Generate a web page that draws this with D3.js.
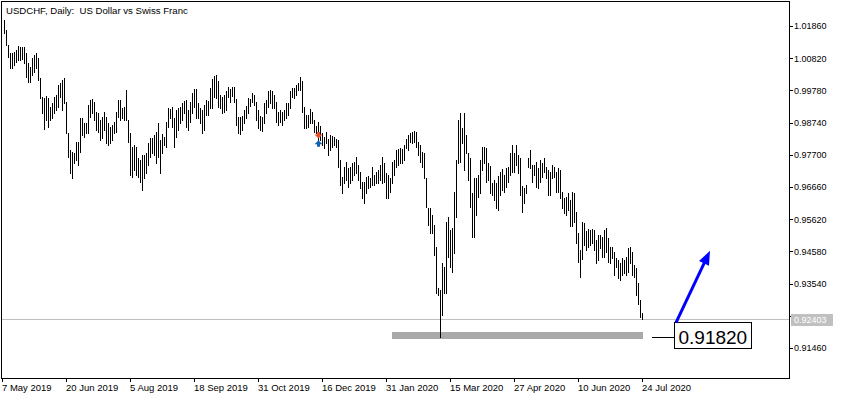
<!DOCTYPE html>
<html><head><meta charset="utf-8">
<script src="https://cdn.jsdelivr.net/npm/d3@7/dist/d3.min.js"></script>
<style>body{margin:0;background:#fff}svg{display:block}text{font-family:"Liberation Sans",Arial,sans-serif}</style>
</head><body>
<svg id="c" width="842" height="400"></svg>
<script>
const title = "USDCHF, Daily:  US Dollar vs Swiss Franc";
const highs = [1.0205,1.0173,1.0125,1.0098,1.0099,1.0103,1.0109,1.0121,1.0119,1.0117,1.0117,1.0098,1.0066,1.0055,1.0083,1.0092,1.0098,1.0082,1.0018,0.9958,
0.9953,0.9960,0.9953,0.9925,0.9937,0.9958,0.9963,0.9995,1.0002,1.0012,1.0018,0.9942,0.9840,0.9786,0.9780,0.9776,0.9812,0.9812,0.9889,0.9889,
0.9873,0.9873,0.9931,0.9947,0.9950,0.9942,0.9909,0.9905,0.9882,0.9893,0.9909,0.9893,0.9873,0.9861,0.9866,0.9877,0.9909,0.9947,0.9947,0.9921,
0.9925,0.9979,0.9882,0.9840,0.9796,0.9802,0.9796,0.9760,0.9753,0.9769,0.9769,0.9776,0.9808,0.9824,0.9824,0.9834,0.9845,0.9873,0.9818,0.9837,
0.9829,0.9877,0.9921,0.9918,0.9925,0.9889,0.9915,0.9921,0.9925,0.9937,0.9945,0.9947,0.9915,0.9942,0.9970,0.9983,0.9983,0.9937,0.9921,0.9915,
0.9931,0.9947,0.9944,0.9986,1.0015,1.0025,1.0028,1.0009,0.9963,0.9958,0.9963,0.9977,0.9990,0.9983,0.9990,0.9990,0.9950,0.9893,0.9893,0.9895,
0.9915,0.9928,0.9953,0.9950,0.9970,0.9963,0.9942,0.9915,0.9895,0.9893,0.9937,0.9947,0.9977,0.9979,0.9977,0.9963,0.9942,0.9909,0.9915,0.9909,
0.9915,0.9937,0.9937,0.9977,0.9986,0.9985,0.9995,1.0002,1.0022,1.0009,0.9925,0.9899,0.9899,0.9918,0.9909,0.9882,0.9863,0.9877,0.9863,0.9839,
0.9829,0.9845,0.9820,0.9834,0.9831,0.9829,0.9820,0.9818,0.9753,0.9699,0.9732,0.9748,0.9726,0.9732,0.9743,0.9748,0.9764,0.9737,0.9715,0.9683,
0.9683,0.9699,0.9702,0.9694,0.9732,0.9705,0.9715,0.9721,0.9737,0.9764,0.9743,0.9710,0.9705,0.9694,0.9748,0.9753,0.9786,0.9788,0.9791,0.9788,
0.9802,0.9820,0.9834,0.9841,0.9845,0.9848,0.9845,0.9812,0.9802,0.9780,0.9775,0.9694,0.9597,0.9597,0.9576,0.9543,0.9473,0.9339,0.9333,0.9420,
0.9409,0.9554,0.9570,0.9527,0.9533,0.9651,0.9753,0.9882,0.9904,0.9856,0.9904,0.9834,0.9775,0.9759,0.9646,0.9694,0.9694,0.9705,0.9753,0.9796,
0.9796,0.9791,0.9743,0.9734,0.9678,0.9689,0.9678,0.9702,0.9715,0.9723,0.9705,0.9726,0.9732,0.9775,0.9802,0.9775,0.9802,0.9769,0.9759,0.9669,
0.9662,0.9672,0.9759,0.9786,0.9737,0.9737,0.9748,0.9726,0.9753,0.9744,0.9759,0.9732,0.9721,0.9715,0.9737,0.9732,0.9715,0.9726,0.9721,0.9651,
0.9630,0.9635,0.9646,0.9624,0.9651,0.9646,0.9586,0.9516,0.9463,0.9554,0.9549,0.9525,0.9529,0.9527,0.9529,0.9527,0.9495,0.9511,0.9511,0.9506,
0.9527,0.9533,0.9500,0.9473,0.9473,0.9457,0.9436,0.9430,0.9420,0.9436,0.9430,0.9441,0.9468,0.9473,0.9457,0.9414,0.9403,0.9355,0.9301,0.9258];
const lows = [1.0164,1.0125,1.0087,1.0049,1.0050,1.0060,1.0071,1.0076,1.0076,1.0078,1.0066,1.0022,1.0006,1.0006,1.0028,1.0038,1.0049,1.0012,0.9953,0.9905,
0.9853,0.9882,0.9860,0.9882,0.9889,0.9905,0.9915,0.9925,0.9958,0.9915,0.9937,0.9840,0.9764,0.9711,0.9695,0.9744,0.9753,0.9737,0.9780,0.9834,
0.9829,0.9840,0.9840,0.9893,0.9905,0.9882,0.9850,0.9845,0.9818,0.9824,0.9850,0.9808,0.9802,0.9808,0.9818,0.9840,0.9845,0.9893,0.9882,0.9889,
0.9882,0.9882,0.9812,0.9705,0.9699,0.9721,0.9705,0.9699,0.9683,0.9656,0.9695,0.9711,0.9737,0.9764,0.9776,0.9769,0.9744,0.9764,0.9711,0.9776,
0.9802,0.9796,0.9861,0.9889,0.9861,0.9796,0.9829,0.9850,0.9873,0.9882,0.9905,0.9861,0.9850,0.9877,0.9905,0.9925,0.9889,0.9889,0.9873,0.9841,
0.9850,0.9899,0.9897,0.9921,0.9921,0.9958,0.9953,0.9925,0.9921,0.9905,0.9909,0.9915,0.9958,0.9942,0.9960,0.9942,0.9866,0.9840,0.9837,0.9850,
0.9873,0.9889,0.9905,0.9928,0.9942,0.9931,0.9882,0.9857,0.9850,0.9848,0.9873,0.9905,0.9925,0.9937,0.9921,0.9921,0.9877,0.9866,0.9877,0.9866,
0.9882,0.9889,0.9899,0.9921,0.9958,0.9955,0.9963,0.9979,0.9979,0.9909,0.9857,0.9857,0.9861,0.9873,0.9873,0.9845,0.9841,0.9818,0.9818,0.9802,
0.9791,0.9807,0.9769,0.9786,0.9796,0.9802,0.9796,0.9732,0.9672,0.9646,0.9678,0.9689,0.9667,0.9678,0.9689,0.9705,0.9710,0.9689,0.9662,0.9630,
0.9613,0.9646,0.9662,0.9667,0.9672,0.9672,0.9678,0.9678,0.9689,0.9678,0.9683,0.9630,0.9630,0.9651,0.9678,0.9705,0.9732,0.9737,0.9743,0.9743,
0.9753,0.9791,0.9786,0.9812,0.9807,0.9812,0.9796,0.9769,0.9748,0.9732,0.9694,0.9602,0.9543,0.9516,0.9516,0.9446,0.9323,0.9317,0.9182,0.9253,
0.9323,0.9323,0.9441,0.9409,0.9392,0.9452,0.9570,0.9743,0.9748,0.9807,0.9721,0.9775,0.9689,0.9602,0.9506,0.9506,0.9576,0.9635,0.9646,0.9721,
0.9743,0.9683,0.9689,0.9648,0.9640,0.9624,0.9597,0.9592,0.9640,0.9656,0.9651,0.9667,0.9683,0.9705,0.9715,0.9715,0.9737,0.9710,0.9640,0.9586,
0.9613,0.9646,0.9732,0.9726,0.9683,0.9705,0.9665,0.9662,0.9683,0.9699,0.9715,0.9694,0.9640,0.9640,0.9694,0.9699,0.9651,0.9651,0.9630,0.9597,
0.9581,0.9576,0.9592,0.9540,0.9540,0.9554,0.9484,0.9425,0.9376,0.9433,0.9479,0.9463,0.9473,0.9479,0.9484,0.9463,0.9420,0.9430,0.9468,0.9441,
0.9441,0.9457,0.9425,0.9420,0.9436,0.9382,0.9409,0.9371,0.9366,0.9382,0.9387,0.9382,0.9392,0.9420,0.9382,0.9376,0.9317,0.9288,0.9247,0.9240];
const priceTicks = [1.0186,1.0082,0.9978,0.9874,0.9770,0.9666,0.9562,0.9458,0.9354,0.9250,0.9146];
const dateLabels = ["7 May 2019","20 Jun 2019","5 Aug 2019","18 Sep 2019","31 Oct 2019","16 Dec 2019","31 Jan 2020","15 Mar 2020","27 Apr 2020","10 Jun 2020","24 Jul 2020"];
const dateIndex = [-1,31,63,95,127,159,191,223,255,287,319];
const lastPrice = 0.92403;
const supportLevel = 0.9182;
const zone = {from:194, to:319, top:0.9198, bottom:0.9175};
const trades = [{i:157, p:0.9834, type:"sell"},{i:157, p:0.9806, type:"buy"}];
const arrowLine = {i0:336, p0:0.9228, i1:353, p1:0.9460};

const N = highs.length;
const svg = d3.select("#c");
const L=2, T=2, R=789, B=378;
const x = d3.scaleLinear().domain([0, N-1]).range([4, 4+2*(N-1)]);
const y = d3.scaleLinear().domain([0.9146, 1.0186]).range([348, 26]);

svg.append("rect").attr("width",842).attr("height",400).attr("fill","#fff");

// current price line
svg.append("line").attr("x1",L).attr("x2",R).attr("y1",Math.round(y(lastPrice))+0.5).attr("y2",Math.round(y(lastPrice))+0.5)
  .attr("stroke","#c0c0c0").attr("stroke-width",1);

// zone rectangle
svg.append("rect").attr("x",Math.round(x(zone.from))).attr("y",Math.round(y(zone.top)))
  .attr("width",Math.round(x(zone.to))-Math.round(x(zone.from))+1).attr("height",Math.round(y(zone.bottom))-Math.round(y(zone.top)))
  .attr("fill","#a9a9a9");

// bars
svg.append("g").selectAll("rect").data(d3.range(N)).join("rect")
  .attr("x", i=>Math.round(x(i))).attr("width",1)
  .attr("y", i=>Math.round(y(highs[i])))
  .attr("height", i=>Math.max(1, Math.round(y(lows[i]))-Math.round(y(highs[i]))+1))
  .attr("fill","#000");

// trade markers
const sellPts = [[-1.5,-3],[1.5,-3],[1.5,-0.5],[4,-0.5],[0,3.5],[-4,-0.5],[-1.5,-0.5]];
const buyPts = [[0,-3.5],[4,0.5],[1.5,0.5],[1.5,3],[-1.5,3],[-1.5,0.5],[-4,0.5]];
svg.append("g").selectAll("polygon").data(trades).join("polygon")
  .attr("points", d=>{const cx=Math.round(x(d.i))+0.5, cy=y(d.p); return (d.type==="sell"?sellPts:buyPts).map(p=>[cx+p[0],cy+p[1]].join(",")).join(" ");})
  .attr("fill", d=>d.type==="sell"?"#e2502c":"#0f62b4");

// frame
svg.append("rect").attr("x",1.5).attr("y",1.5).attr("width",R-1).attr("height",B-1)
  .attr("fill","none").attr("stroke","#000").attr("stroke-width",1);

// price axis
const ly = Math.round(y(lastPrice));
const pa = svg.append("g");
priceTicks.forEach(v=>{
  const yy = Math.round(y(v))+0.5;
  pa.append("line").attr("x1",R).attr("x2",R+4).attr("y1",yy).attr("y2",yy).attr("stroke","#000");
  if (Math.abs(y(v)-ly) > 8) // label hidden under the last-price box, as in the reference
    pa.append("text").attr("x",R+5).attr("y",y(v)+3.3).attr("font-size",9).attr("fill","#000").text(v.toFixed(5));
});
// last price label
svg.append("rect").attr("x",R+2).attr("y",ly-5).attr("width",42).attr("height",12).attr("fill","#c0c0c0");
svg.append("text").attr("x",R+5).attr("y",ly+4).attr("font-size",9).attr("fill","#fff").text(lastPrice.toFixed(5));

// date axis
const da = svg.append("g");
dateIndex.forEach((idx,k)=>{
  const xx = Math.round(x(idx))+0.5;
  da.append("line").attr("x1",xx).attr("x2",xx).attr("y1",B).attr("y2",B+4).attr("stroke","#000");
  da.append("text").attr("x",xx-0.5).attr("y",390.5).attr("font-size",9.5).attr("fill","#000").text(dateLabels[k]);
});

// title
svg.append("text").attr("x",6).attr("y",13.5).attr("font-size",9.6).style("white-space","pre").attr("fill","#000").text(title);

// support callout
const sy = Math.round(y(supportLevel))+0.5;
svg.append("line").attr("x1",652).attr("x2",675).attr("y1",sy).attr("y2",sy).attr("stroke","#000");
svg.append("rect").attr("x",674.5).attr("y",322.5).attr("width",77).attr("height",26).attr("fill","#fff").attr("stroke","#000");
svg.append("text").attr("x",678.5).attr("y",343.5).attr("font-size",19).attr("fill","#000").text(supportLevel.toFixed(5));

// blue arrow
const ax0=x(arrowLine.i0), ay0=y(arrowLine.p0), ax1=x(arrowLine.i1), ay1=y(arrowLine.p1);
const dx=ax1-ax0, dy=ay1-ay0, len=Math.hypot(dx,dy), ux=dx/len, uy=dy/len;
const hl=14, hw=5.5;
const bx=ax1-ux*hl, by=ay1-uy*hl;
svg.append("line").attr("x1",ax0).attr("y1",ay0).attr("x2",bx+ux*2).attr("y2",by+uy*2)
  .attr("stroke","#0000ff").attr("stroke-width",3);
svg.append("polygon").attr("points",[[ax1,ay1],[bx-uy*hw,by+ux*hw],[bx+uy*hw,by-ux*hw]].map(p=>p.join(",")).join(" "))
  .attr("fill","#0000ff");
</script>
</body></html>
